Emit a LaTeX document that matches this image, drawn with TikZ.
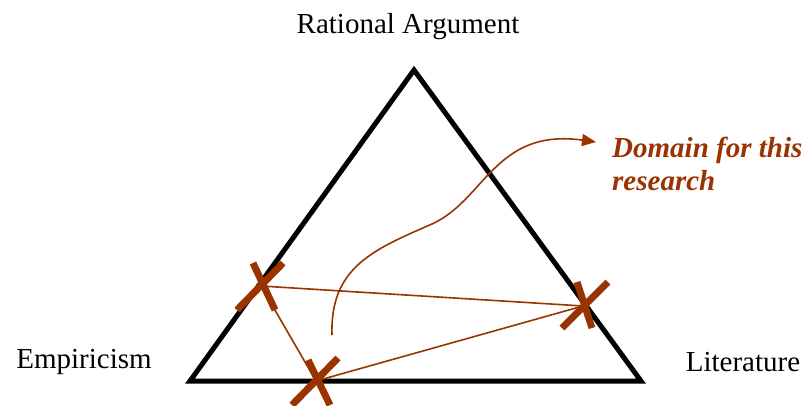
\documentclass[tikz,border=0pt]{standalone}
\usepackage{fontspec}
\setmainfont{Liberation Serif}
\usepackage{xcolor}
\usetikzlibrary{arrows.meta, positioning, calc}
\definecolor{rust}{HTML}{993300}

\begin{document}
\begin{tikzpicture}[
  x=1pt, y=-1pt,
  vertexname/.style={font=\fontsize{29}{33}\selectfont, inner sep=0pt},
  scopenote/.style={vertexname, text=rust, font=\fontsize{29}{33}\selectfont\bfseries\itshape, align=left},
  side/.style={draw=black, line width=5pt, line join=miter},
  link/.style={draw=rust, line width=1.6pt},
  arm/.style={draw=rust, line width=7pt},
  arrow/.style={draw=rust, line width=1.6pt, -{Triangle[length=14pt, width=12pt]}}
]
  \useasboundingbox (0,0) rectangle (807,405);

  % corners of the triangle
  \coordinate (apex) at (414,70);
  \coordinate (left) at (190,381);
  \coordinate (right) at (641,381);
  \draw[side] (left) -- (apex) -- (right) -- cycle;

  \node[vertexname] (rational) at (408,27) {Rational Argument};
  \node[vertexname] (empiricism) at (84,362) {Empiricism};
  \node[vertexname] (literature) at (743,362) {Literature};
  \node[scopenote, anchor=west] (domainnote) at (612,164) {Domain for this\\research};

  % crossing points
  \coordinate (xleft) at (261,286);
  \coordinate (xbottom) at (316,381);
  \coordinate (xright) at (583,306);

  \draw[link] (xleft) -- (xright);
  \draw[link] (xleft) -- (xbottom);
  \draw[link] (xbottom) -- (xright);

  \draw[arm] ($(xleft)+(-8,-23)$) -- ($(xleft)+(14,24)$);
  \draw[arm] ($(xleft)+(22,-23)$) -- ($(xleft)+(-24,24)$);
  \draw[arm] ($(xbottom)+(-8,-21)$) -- ($(xbottom)+(14,24)$);
  \draw[arm] ($(xbottom)+(22,-23)$) -- ($(xbottom)+(-24,24)$);
  \draw[arm] ($(xright)+(-6,-24)$) -- ($(xright)+(9,22)$);
  \draw[arm] ($(xright)+(25,-24)$) -- ($(xright)+(-21,22)$);

  \coordinate (start) at (332,335);
  \coordinate (bend) at (432,224);
  \coordinate (tip) at (596,142);
  \draw[arrow] (start) .. controls (330,268) and (372,250) .. (bend)
    .. controls (485,200) and (495,128) .. (tip);
\end{tikzpicture}
\end{document}
